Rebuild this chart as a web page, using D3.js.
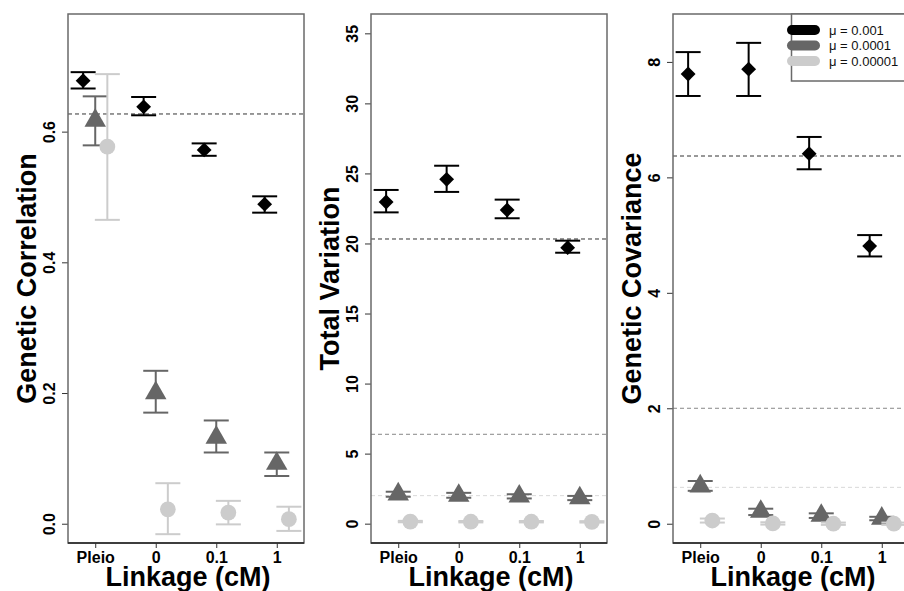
<!DOCTYPE html>
<html lang="en">
<head>
<meta charset="utf-8">
<style>
  html, body { margin:0; padding:0; overflow:hidden; background:#fff; }
  svg { display:block; font-family: "Liberation Sans", Arial, sans-serif; }
  .tick-y { font-size: 16px; font-weight: bold; }
  .tick-x { font-size: 16px; font-weight: bold; }
  .title { font-size: 27px; font-weight: bold; }
  .legend text { font-size: 13px; }
</style>
</head>
<body>
<svg width="904" height="591"></svg>
<script src="https://cdn.jsdelivr.net/npm/d3@7"></script>
<script>
// categories and series
var categories = ["Pleio", "0", "0.1", "1"];
var seriesNames = ["\u03bc = 0.001", "\u03bc = 0.0001", "\u03bc = 0.00001"];

// Genetic correlation (mean, lower, upper) per series
var corrMean = [[0.678, 0.638, 0.572, 0.489], [0.617, 0.200, 0.132, 0.092], [0.577, 0.022, 0.017, 0.007]];
var corrLow  = [[0.666, 0.625, 0.563, 0.476], [0.579, 0.170, 0.109, 0.073], [0.465, -0.016, -0.001, -0.011]];
var corrHigh = [[0.691, 0.653, 0.582, 0.501], [0.654, 0.234, 0.158, 0.109], [0.688, 0.062, 0.035, 0.026]];
var corrRef  = [0.627, null, null];
var corrTicks = [0, 0.2, 0.4, 0.6];

// Total variation
var varMean = [[22.96, 24.58, 22.39, 19.70], [2.10, 2.00, 1.95, 1.82], [0.15, 0.14, 0.14, 0.13]];
var varLow  = [[22.22, 23.68, 21.80, 19.34], [1.92, 1.85, 1.80, 1.68], [0.10, 0.09, 0.09, 0.08]];
var varHigh = [[23.82, 25.55, 23.13, 20.20], [2.28, 2.20, 2.10, 1.98], [0.20, 0.19, 0.19, 0.18]];
var varRef  = [20.32, 6.38, 2.0];
var varTicks = [0, 5, 10, 15, 20, 25, 30, 35];

// Genetic covariance
var covMean = [[7.79, 7.875, 6.41, 4.81], [0.65, 0.21, 0.14, 0.09], [0.055, 0.005, 0.0, 0.0]];
var covLow  = [[7.41, 7.41, 6.14, 4.63], [0.57, 0.15, 0.10, 0.06], [0.02, -0.015, -0.02, -0.02]];
var covHigh = [[8.17, 8.33, 6.70, 5.00], [0.74, 0.26, 0.18, 0.12], [0.09, 0.025, 0.02, 0.02]];
var covRef  = [6.37, 2.0, 0.63];
var covTicks = [0, 2, 4, 6, 8];

var colors = ["#000000", "#666666", "#cccccc"];
var refColors = ["#333333", "#888888", "#d9d9d9"];
var offsets = [-0.2, 0, 0.2];

var svg = d3.select("svg");
var top0 = 14, plotH = 529, plotW = 236;

var panels = [
  {left: 68,  title: "Genetic Correlation", mean: corrMean, low: corrLow, high: corrHigh, ref: corrRef,
   ticks: corrTicks, fmt: d3.format(".1f"), domain: [-0.0295, 0.78]},
  {left: 371, title: "Total Variation", mean: varMean, low: varLow, high: varHigh, ref: varRef,
   ticks: varTicks, fmt: d3.format("d"), domain: [-1.38, 36.38]},
  {left: 673, title: "Genetic Covariance", mean: covMean, low: covLow, high: covHigh, ref: covRef,
   ticks: covTicks, fmt: d3.format("d"), domain: [-0.334, 8.83]}
];

var diamond = d3.symbol().type(d3.symbolSquare).size(110);
var triangle = d3.symbol().type(d3.symbolTriangle).size(200);
var circle = d3.symbol().type(d3.symbolCircle).size(195);
var shapes = [diamond, triangle, circle];

panels.forEach(function (p) {
  var x = d3.scaleLinear().domain([0.55, 4.45]).range([0, plotW]);
  var y = d3.scaleLinear().domain(p.domain).range([plotH, 0]);
  var g = svg.append("g").attr("transform", "translate(" + p.left + "," + top0 + ")");

  // reference dashed lines
  p.ref.forEach(function (v, i) {
    if (v === null) return;
    g.append("line")
      .attr("x1", 0).attr("x2", plotW)
      .attr("y1", y(v)).attr("y2", y(v))
      .attr("stroke", refColors[i])
      .attr("stroke-width", 1)
      .attr("stroke-dasharray", "4,3");
  });

  // y axis
  var yAxis = g.append("g")
    .call(d3.axisLeft(y).tickValues(p.ticks).tickFormat(p.fmt).tickSize(6).tickSizeOuter(0));
  yAxis.select(".domain").remove();
  yAxis.selectAll(".tick line").attr("stroke", "#333");
  yAxis.selectAll(".tick text").remove();
  yAxis.selectAll(".tick").append("text")
    .attr("class", "tick-y")
    .attr("transform", "translate(-13,0) rotate(-90)")
    .attr("text-anchor", "middle")
    .attr("fill", "#000")
    .text(function (d) { return p.fmt(d); });

  // x axis
  var xAxis = g.append("g")
    .attr("transform", "translate(0," + plotH + ")")
    .call(d3.axisBottom(x).tickValues([1, 2, 3, 4])
      .tickFormat(function (d) { return categories[d - 1]; })
      .tickSize(5).tickSizeOuter(0));
  xAxis.select(".domain").remove();
  xAxis.selectAll(".tick line").attr("stroke", "#333");
  xAxis.selectAll(".tick text")
    .attr("class", "tick-x")
    .attr("dy", null)
    .attr("y", 20)
    .attr("fill", "#000");

  // box
  g.append("rect")
    .attr("width", plotW).attr("height", plotH)
    .attr("fill", "none").attr("stroke", "#6a6a6a").attr("stroke-width", 1.5);
  g.append("line")
    .attr("x1", 0).attr("x2", plotW).attr("y1", plotH).attr("y2", plotH)
    .attr("stroke", "#222").attr("stroke-width", 1.5);

  // series: error bars + points
  p.mean.forEach(function (vals, s) {
    var sg = g.append("g");
    vals.forEach(function (v, k) {
      var cx = x(k + 1 + offsets[s]);
      var lo = y(p.low[s][k]), hi = y(p.high[s][k]);
      sg.append("line").attr("x1", cx).attr("x2", cx).attr("y1", lo).attr("y2", hi)
        .attr("stroke", colors[s]).attr("stroke-width", 2);
      [lo, hi].forEach(function (yy) {
        sg.append("line").attr("x1", cx - 12.5).attr("x2", cx + 12.5).attr("y1", yy).attr("y2", yy)
          .attr("stroke", colors[s]).attr("stroke-width", 2);
      });
      sg.append("path")
        .attr("d", shapes[s]())
        .attr("fill", colors[s])
        .attr("transform", "translate(" + cx + "," + y(v) + ")" + (s === 0 ? " rotate(45)" : ""));
    });
  });

  // axis titles
  svg.append("text")
    .attr("class", "title")
    .attr("transform", "translate(" + (p.left - 32) + "," + (top0 + plotH / 2) + ") rotate(-90)")
    .attr("text-anchor", "middle")
    .text(p.title);
  svg.append("text")
    .attr("class", "title")
    .attr("x", p.left + plotW / 2 + 2)
    .attr("y", 586)
    .attr("text-anchor", "middle")
    .text("Linkage (cM)");

  // legend on last panel
  if (p.title === "Genetic Covariance") {
    var lg = g.append("g").attr("class", "legend");
    lg.append("rect")
      .attr("x", 791.5 - p.left).attr("y", 0)
      .attr("width", plotW - (791.5 - p.left)).attr("height", 67)
      .attr("fill", "#fff").attr("stroke", "#6a6a6a").attr("stroke-width", 1.5);
    seriesNames.forEach(function (name, i) {
      var yy = 16 + i * 15.5;
      lg.append("line")
        .attr("x1", 792 - p.left).attr("x2", 815 - p.left)
        .attr("y1", yy).attr("y2", yy)
        .attr("stroke", colors[i]).attr("stroke-width", 10).attr("stroke-linecap", "round");
      lg.append("text")
        .attr("x", 829 - p.left).attr("y", yy + 4.5)
        .attr("fill", "#111")
        .text(name);
    });
  }
});
</script>
</body>
</html>
